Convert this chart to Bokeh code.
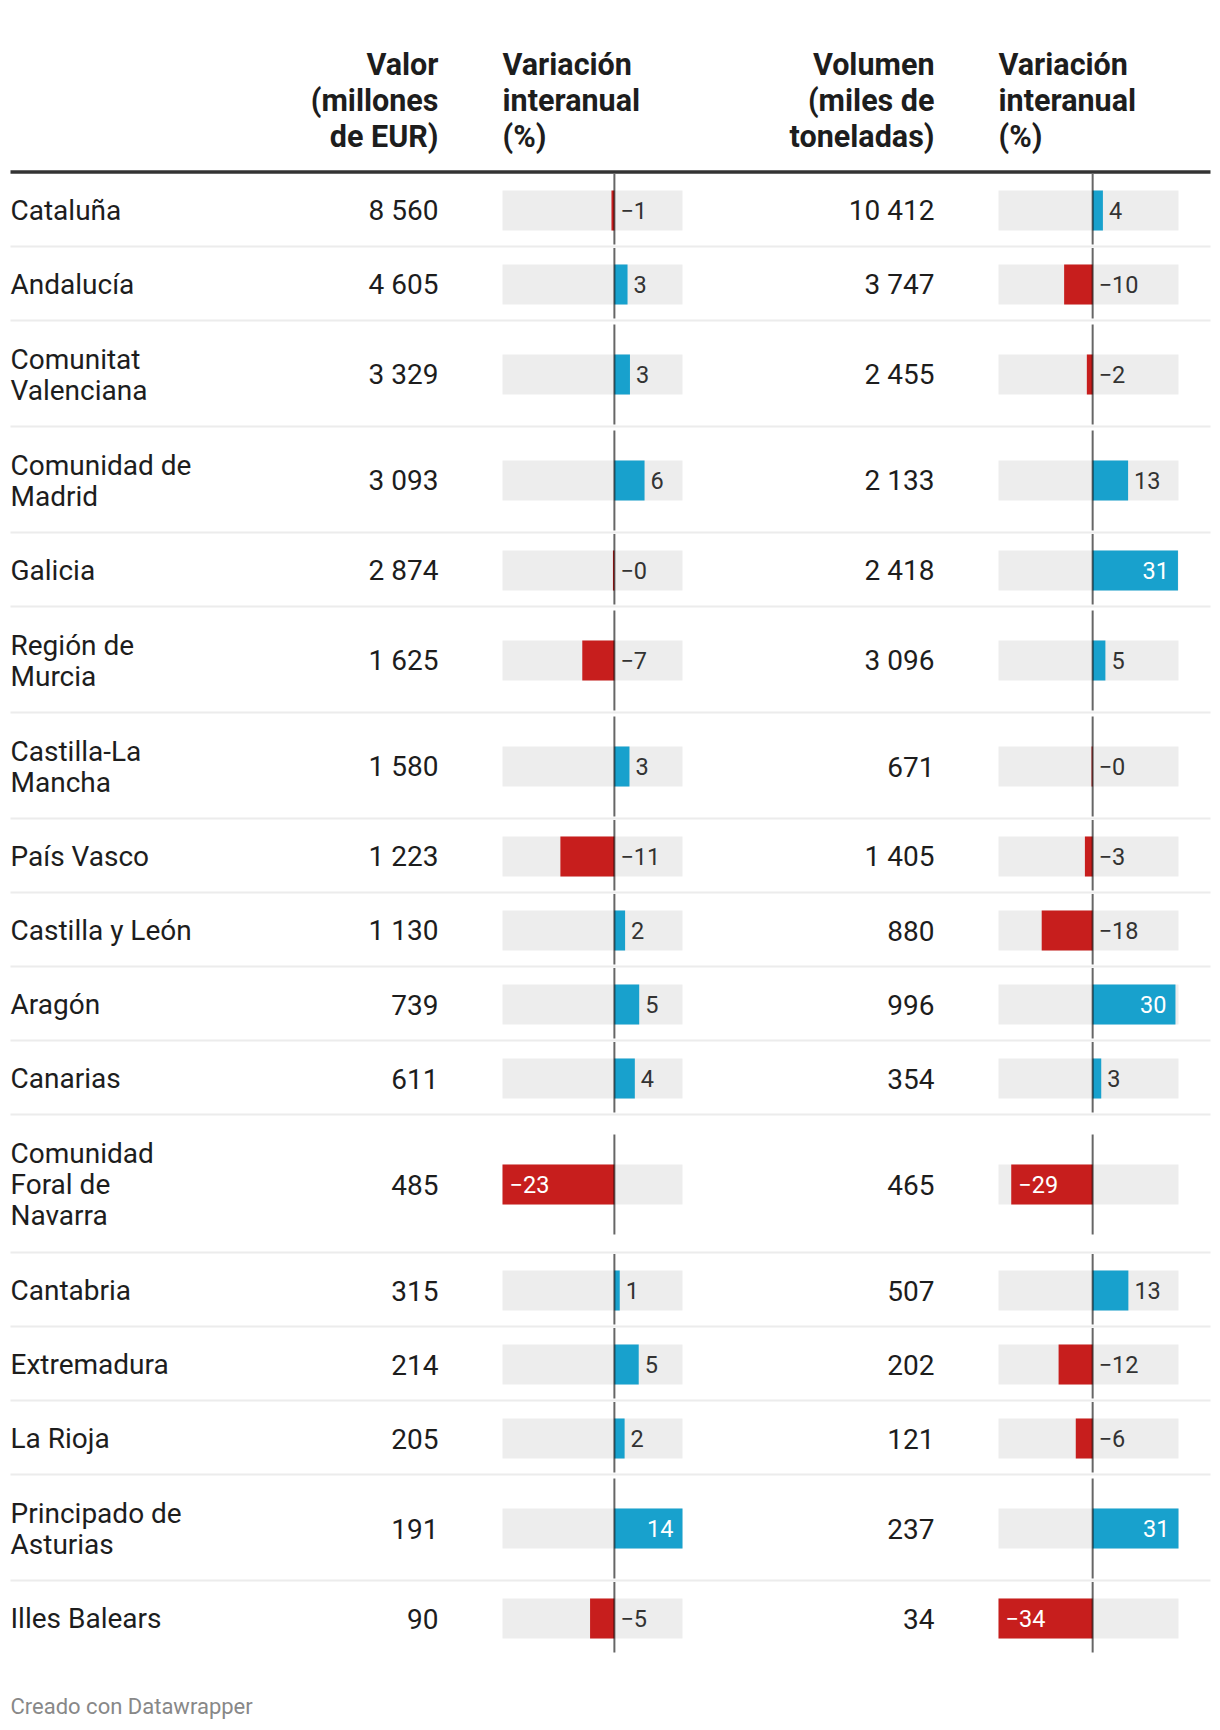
from bokeh.plotting import figure
from bokeh.models import Range1d, ColumnDataSource
from bokeh.embed import file_html
from bokeh.resources import INLINE
from bokeh.core.properties import value

# ---------------- data ----------------
regions = ["Cataluña", "Andalucía", "Comunitat\nValenciana", "Comunidad de\nMadrid",
           "Galicia", "Región de\nMurcia", "Castilla-La\nMancha", "País Vasco",
           "Castilla y León", "Aragón", "Canarias", "Comunidad\nForal de\nNavarra",
           "Cantabria", "Extremadura", "La Rioja", "Principado de\nAsturias",
           "Illes Balears"]
valor = [8560, 4605, 3329, 3093, 2874, 1625, 1580, 1223, 1130, 739, 611, 485,
         315, 214, 205, 191, 90]
var_valor = [-0.6, 2.7, 3.2, 6.2, -0.3, -6.6, 3.1, -11.1, 2.2, 5.1, 4.2, -23.0,
             1.1, 5.0, 2.1, 14.0, -5.0]
volumen = [10412, 3747, 2455, 2133, 2418, 3096, 671, 1405, 880, 996, 354, 465,
           507, 202, 121, 237, 34]
var_volumen = [3.7, -10.3, -2.1, 12.8, 30.8, 4.6, -0.4, -2.8, -18.4, 29.9, 3.1,
               -29.4, 12.9, -12.3, -6.1, 31.0, -34.0]
headers = ["", "Valor\n(millones\nde EUR)", "Variación\ninteranual\n(%)",
           "Volumen\n(miles de\ntoneladas)", "Variación\ninteranual\n(%)"]
footer = "Creado con Datawrapper"

# ---------------- style / layout ----------------
FONT = value("Roboto")
TXT = "#1d1d1d"
BLUE = "#18a1cd"
RED = "#c71e1d"
BG = "#ededed"
W, H = 1216, 1726
X0 = 0
TABLE_L, TABLE_R = 10, 1210
NAME_X = 10
VALOR_X = 438
BAR1 = (502, 682)
VOL_X = 934
BAR2 = (998, 1178)
RULE_Y = 171.5
ROW_TOP = 173
ROW_H = 74
LINE_H = 32
BAR_H = 40
BODY_FS = 28
HEAD_FS = 30.5
LAB_FS = 23.5
FOOT_FS = 22
BASE_CORR = 0.34   # renderer baseline correction (fraction of font size)

p = figure(width=W, height=H, x_range=Range1d(X0, X0 + W), y_range=Range1d(X0 + H, X0),
           output_backend="svg", toolbar_location=None, min_border=0,
           x_axis_location=None, y_axis_location=None)
p.grid.visible = False
p.outline_line_color = None
p.background_fill_color = "white"


def bl(y, fs):
    return y - BASE_CORR * fs


def make_range(vals, px):
    d0, d1 = min(vals), max(vals)
    k = (d1 - d0) / (px[1] - px[0])
    return Range1d(d0 - (px[0] - X0) * k, d1 + (X0 + W - px[1]) * k), d0, d1


r1, a0, a1 = make_range(var_valor, BAR1)
r2, b0, b1 = make_range(var_volumen, BAR2)
p.extra_x_ranges = {"v1": r1, "v2": r2}

# row geometry
tops, bots, centers = [], [], []
y = ROW_TOP
for name in regions:
    n = len(name.split("\n"))
    h = ROW_H + LINE_H * (n - 1)
    tops.append(y)
    bots.append(y + h)
    centers.append(y + h / 2)
    y += h

# header
hdr_x = [None, VALOR_X, BAR1[0], VOL_X, BAR2[0]]
hdr_align = [None, "right", "left", "right", "left"]
hx, hy, ht, ha = [], [], [], []
for i, htxt in enumerate(headers):
    if not htxt:
        continue
    for j, line in enumerate(htxt.split("\n")):
        hx.append(hdr_x[i]); hy.append(bl(74 + 36 * j, HEAD_FS)); ht.append(line); ha.append(hdr_align[i])
p.text(x=hx, y=hy, text=ht, text_align=ha, text_baseline="alphabetic",
       text_font=FONT, text_font_size=f"{HEAD_FS}px", text_font_style="bold", text_color=TXT)

# thick rule
p.segment(x0=[TABLE_L], x1=[TABLE_R], y0=[RULE_Y], y1=[RULE_Y], line_color="#333333", line_width=3.3)

# separators
sep_y = [b - 1 for b in bots[:-1]]
p.segment(x0=[TABLE_L] * len(sep_y), x1=[TABLE_R] * len(sep_y), y0=sep_y, y1=sep_y,
          line_color="#ececec", line_width=2)

# names
nx, ny, nt = [], [], []
for name, c in zip(regions, centers):
    lines = name.split("\n")
    n = len(lines)
    for j, line in enumerate(lines):
        nx.append(NAME_X); ny.append(bl(c + 10 + (j - (n - 1) / 2) * 31, BODY_FS)); nt.append(line)
p.text(x=nx, y=ny, text=nt, text_align="left", text_baseline="alphabetic",
       text_font=FONT, text_font_size=f"{BODY_FS}px", text_color=TXT)


def fmt_num(v):
    return f"{v:,}".replace(",", " ")


p.text(x=[VALOR_X] * len(valor), y=[bl(c + 10, BODY_FS) for c in centers],
       text=[fmt_num(v) for v in valor],
       text_align="right", text_baseline="alphabetic", text_font=FONT,
       text_font_size=f"{BODY_FS}px", text_color=TXT)
p.text(x=[VOL_X] * len(volumen), y=[bl(c + 10, BODY_FS) for c in centers],
       text=[fmt_num(v) for v in volumen],
       text_align="right", text_baseline="alphabetic", text_font=FONT,
       text_font_size=f"{BODY_FS}px", text_color=TXT)


def fmt_pct(v):
    r = abs(round(v))
    return ("\u2212" if v < 0 else "") + str(r)


def bar_column(vals, rname, d0, d1):
    n = len(vals)
    p.hbar(y=centers, left=[d0] * n, right=[d1] * n, height=BAR_H, fill_color=BG,
           line_color=None, x_range_name=rname)
    p.hbar(y=centers, left=[0] * n, right=vals, height=BAR_H,
           fill_color=[BLUE if v >= 0 else RED for v in vals], line_color=None,
           x_range_name=rname)
    # zero line per row
    y0s, y1s = [], []
    for t, b, c in zip(tops, bots, centers):
        y0s.append(max(t + 0.5, c - 50))
        y1s.append(min(b - 3, c + 50))
    p.segment(x0=[0] * n, x1=[0] * n, y0=y0s, y1=y1s, line_color="black", line_alpha=0.6,
              line_width=2, x_range_name=rname)
    # labels
    src = {"x": [], "y": [], "t": [], "off": [], "align": [], "col": []}
    for v, c in zip(vals, centers):
        side = d1 if v >= 0 else -d0
        inside = abs(v) / side >= 0.7
        if v >= 0:
            if inside:
                x, off, al, col = v, -9, "right", "white"
            else:
                x, off, al, col = v, 6, "left", "#333333"
        else:
            if inside:
                x, off, al, col = v, 7, "left", "white"
            else:
                x, off, al, col = 0, 6, "left", "#333333"
        src["x"].append(x); src["y"].append(bl(c + 0.355 * LAB_FS, LAB_FS)); src["t"].append(fmt_pct(v))
        src["off"].append(off); src["align"].append(al); src["col"].append(col)
    p.text(x="x", y="y", text="t", x_offset="off", text_align="align", text_color="col",
           text_baseline="alphabetic", text_font=FONT, text_font_size=f"{LAB_FS}px",
           source=ColumnDataSource(src), x_range_name=rname)


bar_column(var_valor, "v1", a0, a1)
bar_column(var_volumen, "v2", b0, b1)

# footer
p.text(x=[NAME_X], y=[bl(1713, FOOT_FS)], text=[footer], text_align="left", text_baseline="alphabetic",
       text_font=FONT, text_font_size=f"{FOOT_FS}px", text_color="#888888")

open("out.html", "w").write(file_html(p, INLINE))
